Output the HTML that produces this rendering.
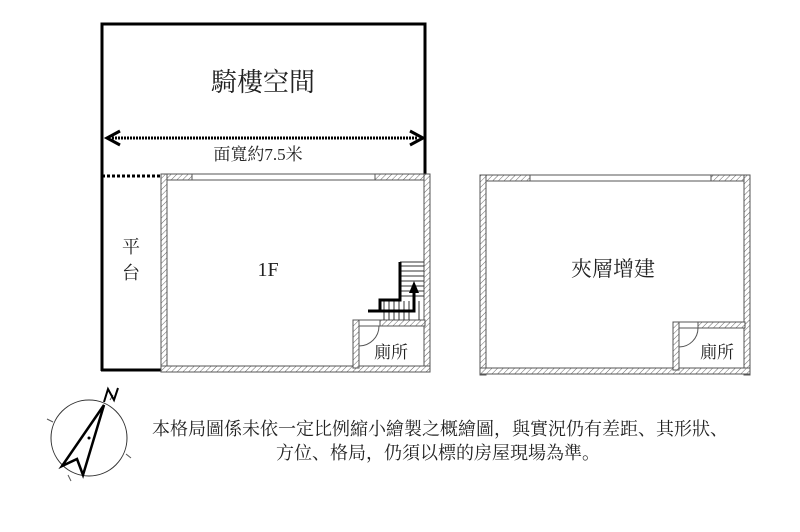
<!DOCTYPE html>
<html><head><meta charset="utf-8"><style>
html,body{margin:0;padding:0;background:#fff;width:800px;height:532px;overflow:hidden}
svg text{font-family:"Liberation Serif","Noto Serif CJK SC","Noto Sans CJK TC",serif;fill:#222}
</style></head><body>
<svg width="800" height="532" viewBox="0 0 800 532" xmlns="http://www.w3.org/2000/svg">
<defs>
<pattern id="h" width="4" height="4" patternUnits="userSpaceOnUse" patternTransform="rotate(45)">
<rect width="4" height="4" fill="#fff"/><line x1="0" y1="0" x2="0" y2="4" stroke="#666" stroke-width="1"/>
</pattern>
</defs>
<polyline points="102,176 102,24 425,24 425,176" fill="none" stroke="#000" stroke-width="3"/>
<line x1="102" y1="176" x2="102" y2="371" stroke="#000" stroke-width="3"/>
<line x1="101" y1="370" x2="161" y2="370" stroke="#000" stroke-width="3"/>
<line x1="102" y1="176" x2="160" y2="176" stroke="#000" stroke-width="3" stroke-dasharray="3,2"/>
<text x="263" y="91" font-size="26" text-anchor="middle">騎樓空間</text>
<line x1="112" y1="138" x2="418" y2="138" stroke="#000" stroke-width="3" stroke-dasharray="2,1"/>
<polyline points="120,131 107,138 120,145" fill="none" stroke="#000" stroke-width="3"/>
<polyline points="410,131 423,138 410,145" fill="none" stroke="#000" stroke-width="3"/>
<text x="258" y="160" font-size="17" text-anchor="middle">面寬約7.5米</text>
<text x="131" y="253" font-size="18" text-anchor="middle">平</text>
<text x="131" y="279" font-size="18" text-anchor="middle">台</text>

<g stroke="#555" stroke-width="1" fill="url(#h)">
<rect x="161" y="174" width="31" height="6"/>
<rect x="375" y="174" width="55" height="6"/>
<rect x="161" y="174" width="6" height="198"/>
<rect x="424" y="174" width="6" height="198"/>
<rect x="161" y="366" width="269" height="6"/>
<rect x="353" y="320" width="6" height="48"/>
<rect x="380" y="320" width="45" height="6"/>
</g>
<rect x="192" y="174" width="183" height="6" fill="#fff" stroke="#555" stroke-width="1"/>
<rect x="359" y="320" width="21" height="6" fill="#fff" stroke="#555" stroke-width="1"/>
<path d="M359,346 A20,20 0 0 0 379,326" fill="none" stroke="#555" stroke-width="1"/>
<text x="268" y="276" font-size="20" text-anchor="middle">1F</text>
<text x="391" y="358" font-size="17" text-anchor="middle">廁所</text>
<g stroke="#333" stroke-width="1">
<line x1="400" y1="266" x2="424" y2="266"/><line x1="400" y1="271" x2="424" y2="271"/>
<line x1="400" y1="276" x2="424" y2="276"/><line x1="400" y1="281" x2="424" y2="281"/>
<line x1="400" y1="286" x2="424" y2="286"/><line x1="400" y1="291" x2="424" y2="291"/>
<line x1="400" y1="296" x2="424" y2="296"/><line x1="400" y1="262" x2="424" y2="262"/>
<line x1="384" y1="301" x2="384" y2="320"/><line x1="389" y1="301" x2="389" y2="320"/>
<line x1="394" y1="301" x2="394" y2="320"/><line x1="399" y1="301" x2="399" y2="320"/>
<line x1="404" y1="301" x2="404" y2="320"/><line x1="409" y1="301" x2="409" y2="320"/>
<line x1="419" y1="301" x2="419" y2="320"/>
</g>
<polyline points="400,262 400,300 380,300 380,311" fill="none" stroke="#000" stroke-width="3"/>
<polyline points="368,311 414,311 414,292" fill="none" stroke="#000" stroke-width="3"/>
<polygon points="414,281 409,293 419,293" fill="#000"/>

<g stroke="#555" stroke-width="1" fill="url(#h)">
<rect x="480" y="175" width="50" height="6"/>
<rect x="711" y="175" width="38" height="6"/>
<rect x="480" y="175" width="6" height="200"/>
<rect x="744" y="175" width="6" height="200"/>
<rect x="480" y="368" width="270" height="6"/>
<rect x="673" y="322" width="6" height="48"/>
<rect x="698" y="322" width="47" height="6"/>
</g>
<rect x="530" y="175" width="181" height="6" fill="#fff" stroke="#555" stroke-width="1"/>
<rect x="679" y="322" width="19" height="6" fill="#fff" stroke="#555" stroke-width="1"/>
<path d="M679,347 A19,19 0 0 0 698,328" fill="none" stroke="#555" stroke-width="1"/>
<text x="613" y="276" font-size="21" text-anchor="middle">夾層增建</text>
<text x="717" y="358" font-size="17" text-anchor="middle">廁所</text>

<circle cx="89" cy="438" r="38" fill="none" stroke="#333" stroke-width="1"/>
<g stroke="#555" stroke-width="1">
<line x1="47" y1="419" x2="53" y2="422"/><line x1="126" y1="454" x2="131" y2="458"/>
<line x1="68" y1="475" x2="71" y2="481"/><line x1="110" y1="400" x2="113" y2="395"/>
</g>
<polygon points="104,405 62,466 77,459 83,475" fill="none" stroke="#000" stroke-width="2.5"/>
<circle cx="89" cy="438" r="1.5" fill="#000"/>
<polyline points="104,402 108,389 114,400 118,388" fill="none" stroke="#000" stroke-width="2"/>

<text x="440" y="435" font-size="18" text-anchor="middle">本格局圖係未依一定比例縮小繪製之概繪圖，與實況仍有差距、其形狀、</text>
<text x="438" y="459" font-size="18" text-anchor="middle">方位、格局，仍須以標的房屋現場為準。</text>
</svg>
</body></html>
